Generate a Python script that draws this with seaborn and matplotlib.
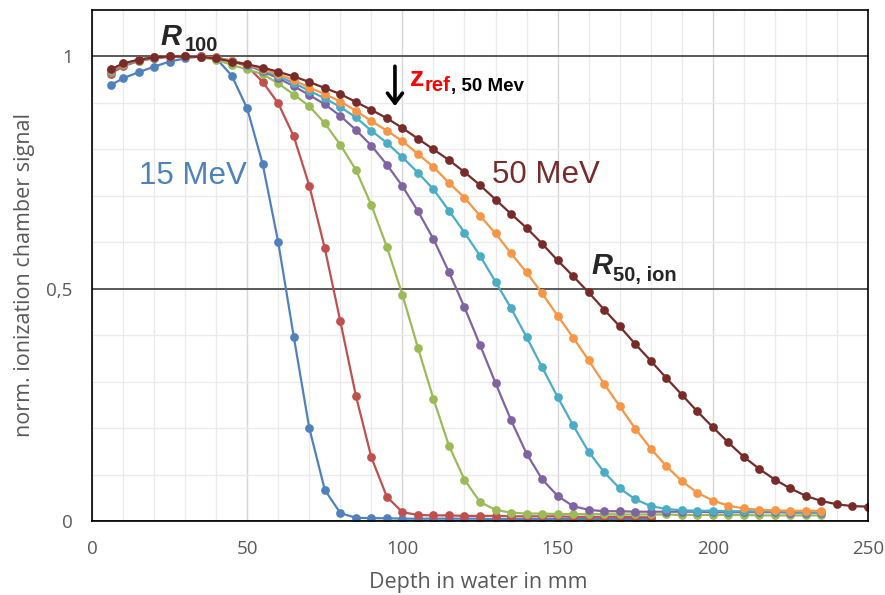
import numpy as np
import pandas as pd
import matplotlib.pyplot as plt
import seaborn as sns
from matplotlib.ticker import FixedLocator, MultipleLocator, FixedFormatter

# depth grids (mm)
depth_short = [6] + list(range(10, 185, 5))
depth_mid = [6] + list(range(10, 240, 5))
depth_long = [6] + list(range(10, 255, 5))

# normalised ionization signal
sig_15 = [0.938, 0.953, 0.966, 0.978, 0.989, 0.996, 1.0, 0.996, 0.959, 0.888,
          0.768, 0.600, 0.397, 0.200, 0.067, 0.017, 0.007, 0.006, 0.006, 0.005,
          0.005, 0.005, 0.005, 0.005, 0.005, 0.004, 0.004, 0.004, 0.004, 0.004,
          0.004, 0.004, 0.004, 0.004, 0.004, 0.004]
sig_red = [0.963, 0.979, 0.990, 0.996, 0.999, 1.0, 1.0, 0.998, 0.990, 0.979,
           0.945, 0.899, 0.828, 0.722, 0.587, 0.430, 0.270, 0.137, 0.052, 0.019,
           0.013, 0.012, 0.012, 0.011, 0.011, 0.011, 0.010, 0.010, 0.010, 0.010,
           0.009, 0.009, 0.009, 0.009, 0.008, 0.008]
sig_green = [0.967, 0.981, 0.991, 0.997, 1.0, 1.0, 0.998, 0.993, 0.982, 0.972,
             0.962, 0.942, 0.918, 0.893, 0.856, 0.810, 0.756, 0.680, 0.590, 0.487,
             0.373, 0.263, 0.162, 0.089, 0.041, 0.024, 0.018,
             0.016, 0.016, 0.015, 0.015, 0.015, 0.015, 0.014, 0.014, 0.014, 0.014,
             0.013, 0.013, 0.013, 0.013, 0.013, 0.012, 0.012, 0.012, 0.012, 0.012]
sig_purple = [0.968, 0.982, 0.992, 0.997, 1.0, 1.0, 0.999, 0.996, 0.990, 0.981,
              0.968, 0.953, 0.936, 0.917, 0.897, 0.872, 0.842, 0.808, 0.767, 0.721,
              0.667, 0.607, 0.536, 0.460, 0.379, 0.297, 0.217, 0.145, 0.090, 0.054,
              0.032, 0.024, 0.021,
              0.021, 0.020, 0.020, 0.020, 0.020, 0.020, 0.019, 0.019, 0.019, 0.019,
              0.019, 0.018, 0.018, 0.018]
sig_cyan = [0.969, 0.983, 0.993, 0.998, 1.0, 1.0, 0.999, 0.997, 0.991, 0.982,
            0.971, 0.957, 0.943, 0.926, 0.910, 0.891, 0.869, 0.840, 0.814, 0.783,
            0.750, 0.714, 0.668, 0.621, 0.571, 0.515, 0.458, 0.396, 0.331, 0.267,
            0.206, 0.149, 0.105, 0.070, 0.047, 0.032, 0.026, 0.023,
            0.022, 0.022, 0.021, 0.021, 0.021, 0.021, 0.020, 0.020, 0.020]
sig_orange = [0.970, 0.984, 0.993, 0.998, 1.0, 1.0, 0.999, 0.997, 0.991, 0.983,
              0.972, 0.962, 0.949, 0.933, 0.919, 0.903, 0.883, 0.861, 0.840, 0.818,
              0.790, 0.762, 0.728, 0.696, 0.657, 0.619, 0.576, 0.535, 0.490, 0.442,
              0.395, 0.346, 0.295, 0.247, 0.199, 0.156, 0.118, 0.086, 0.061, 0.044,
              0.033, 0.027, 0.024, 0.023, 0.022, 0.022, 0.022]
sig_50 = [0.972, 0.985, 0.993, 0.998, 1.0, 1.0, 0.999, 0.996, 0.989, 0.983,
          0.976, 0.967, 0.957, 0.945, 0.932, 0.919, 0.902, 0.885, 0.867, 0.846,
          0.823, 0.800, 0.777, 0.751, 0.723, 0.692, 0.661, 0.631, 0.597, 0.561,
          0.527, 0.492, 0.455, 0.419, 0.381, 0.345, 0.308, 0.272, 0.236, 0.202,
          0.169, 0.138, 0.112, 0.089, 0.070, 0.054, 0.043, 0.036, 0.032, 0.031]

beams = ['15 MeV', 'b2', 'b3', 'b4', 'b5', 'b6', '50 MeV']
colors = ['#4F81BD', '#C0504D', '#9BBB59', '#8064A2', '#4BACC6', '#F79646', '#772C2A']
depths = [depth_short, depth_short, depth_mid, depth_mid, depth_mid, depth_mid, depth_long]
signals = [sig_15, sig_red, sig_green, sig_purple, sig_cyan, sig_orange, sig_50]

df = pd.concat([pd.DataFrame({'depth': d, 'signal': s, 'beam': b})
                for b, d, s in zip(beams, depths, signals)], ignore_index=True)

sns.set_theme(style='white')
plt.rcParams['font.family'] = ['Open Sans', 'DejaVu Sans']

fig = plt.figure(figsize=(8.85, 5.95), dpi=100)
ax = fig.add_axes([92 / 885, 1 - 521 / 595, (868 - 92) / 885, (521 - 10) / 595])

sns.lineplot(data=df, x='depth', y='signal', hue='beam', palette=dict(zip(beams, colors)),
             marker='o', markersize=6.3, markeredgewidth=0, linewidth=1.6,
             estimator=None, sort=False, legend=False, ax=ax)

ax.set_xlim(0, 250)
ax.set_ylim(0, 1.1)
ax.xaxis.set_major_locator(MultipleLocator(50))
ax.xaxis.set_minor_locator(MultipleLocator(10))
ax.yaxis.set_major_locator(FixedLocator([0, 0.5, 1]))
ax.yaxis.set_major_formatter(FixedFormatter(['0', '0,5', '1']))
ax.yaxis.set_minor_locator(FixedLocator([0.1, 0.2, 0.3, 0.4, 0.6, 0.7, 0.8, 0.9]))

ax.grid(which='minor', axis='both', color='#EBEBEB', linewidth=1)
ax.grid(which='major', axis='x', color='#D6D6D6', linewidth=1)
ax.grid(which='major', axis='y', color='#595959', linewidth=1.4)
ax.set_axisbelow(True)

for sp in ax.spines.values():
    sp.set_color('black')
    sp.set_linewidth(1.2)

ax.tick_params(which='major', direction='out', length=5, width=1, color='black',
               labelsize=13.5, labelcolor='#595959', pad=9)
ax.tick_params(which='minor', length=0)

ax.set_xlabel('Depth in water in mm', fontsize=15.5, color='#595959')
ax.set_ylabel('norm. ionization chamber signal', fontsize=15.5, color='#595959')
ax.xaxis.set_label_coords(0.498, -0.100)
ax.yaxis.set_label_coords(-0.073, 0.481)

arial = ['Liberation Sans', 'DejaVu Sans']
ax.text(15.2, 0.725, '15 MeV', fontsize=22.5, color='#4F81BD', family=arial)
ax.text(128.8, 0.727, '50 MeV', fontsize=22.5, color='#772C2A', family=arial)

# R100
ax.annotate('R', xy=(22.2, 1.025), fontsize=21, fontweight='bold', fontstyle='italic',
            family=arial, va='baseline', annotation_clip=False)
ax.annotate('100', xy=(22.2, 1.025), xytext=(17.5, -4.3), textcoords='offset points',
            fontsize=14.5, fontweight='bold', family=arial, va='baseline', annotation_clip=False)

# R50, ion
ax.annotate('R', xy=(160.8, 0.5315), fontsize=21, fontweight='bold', fontstyle='italic',
            family=arial, va='baseline')
ax.annotate('50, ion', xy=(160.8, 0.5315), xytext=(16, -4.8), textcoords='offset points',
            fontsize=14.5, fontweight='bold', family=arial, va='baseline')

# z_ref, 50 Mev
ax.annotate('z', xy=(102.3, 0.9356), fontsize=20.5, fontweight='bold', color='#FF0000',
            family=arial, va='baseline')
ax.annotate('ref', xy=(102.3, 0.9356), xytext=(11, -3.6), textcoords='offset points',
            fontsize=14.5, fontweight='bold', color='#FF0000', family=arial, va='baseline')
ax.annotate(', 50 Mev', xy=(102.3, 0.9356), xytext=(30, -3.6), textcoords='offset points',
            fontsize=13.5, fontweight='bold', color='black', family=arial, va='baseline')

ax.annotate('', xy=(97.6, 0.893), xytext=(97.6, 0.979),
            arrowprops=dict(arrowstyle='->, head_length=0.6, head_width=0.45',
                            color='black', lw=2.6, shrinkA=0, shrinkB=0))

fig.savefig('out.png', dpi=100)
